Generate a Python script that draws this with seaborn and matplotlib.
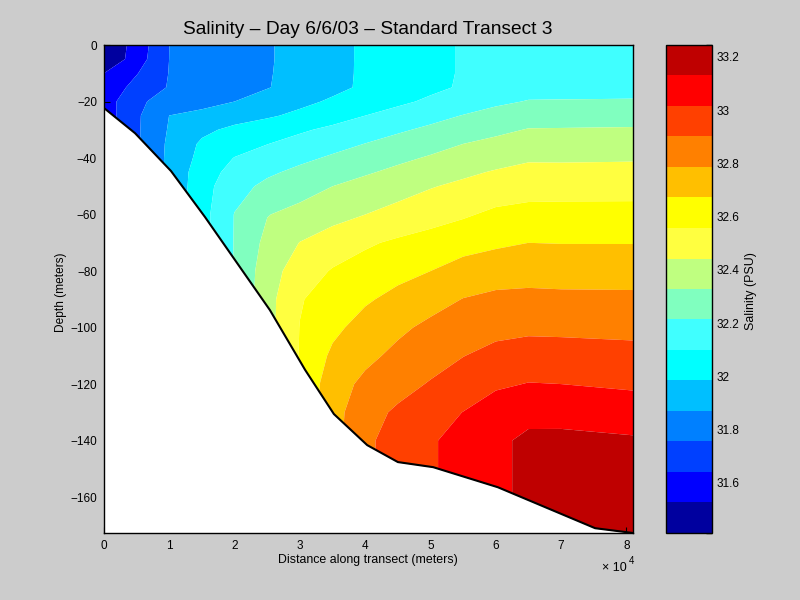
import numpy as np
import matplotlib
matplotlib.use("Agg")
import matplotlib.pyplot as plt
from matplotlib.colors import ListedColormap, BoundaryNorm
import seaborn as sns

# Stations along the transect (metres)
stations = [0, 5000, 10000, 15000, 20000, 25000, 30000, 35000, 40000, 45000, 50000, 55000, 60000, 65000, 70000, 81000]
# Sample depths (metres)
depths = [0, -5, -10, -15, -20, -25, -30, -35, -40, -45, -50, -60, -70, -80, -90, -100, -110, -120, -130, -140, -150, -160, -170, -180]

# Salinity per station, one value for each depth
st00 = [31.42, 31.42, 31.527, 31.56, 31.58, 31.58, 31.58, 31.58, 31.58, 31.58, 31.58, 31.58, 31.58, 31.58, 31.58, 31.58, 31.58, 31.58, 31.58, 31.58, 31.58, 31.58, 31.58, 31.58]
st05 = [31.573, 31.586, 31.635, 31.68, 31.74, 31.739, 31.74, 31.74, 31.74, 31.74, 31.74, 31.74, 31.74, 31.74, 31.74, 31.74, 31.74, 31.74, 31.74, 31.74, 31.74, 31.74, 31.74, 31.74]
st10 = [31.756, 31.757, 31.76, 31.764, 31.79, 31.871, 31.88, 31.891, 31.895, 31.895, 31.895, 31.895, 31.895, 31.895, 31.895, 31.895, 31.895, 31.895, 31.895, 31.895, 31.895, 31.895, 31.895, 31.895]
st15 = [31.79, 31.79, 31.792, 31.798, 31.829, 31.904, 31.96, 32.003, 32.02, 32.048, 32.056, 32.06, 32.06, 32.06, 32.06, 32.06, 32.06, 32.06, 32.06, 32.06, 32.06, 32.06, 32.06, 32.06]
st20 = [31.825, 31.825, 31.827, 31.831, 31.87, 31.937, 32.011, 32.05, 32.104, 32.137, 32.174, 32.218, 32.22, 32.22, 32.22, 32.22, 32.22, 32.22, 32.22, 32.22, 32.22, 32.22, 32.22, 32.22]
st25 = [31.86, 31.86, 31.862, 31.865, 31.915, 31.97, 32.048, 32.098, 32.147, 32.195, 32.24, 32.325, 32.361, 32.393, 32.403, 32.403, 32.403, 32.403, 32.403, 32.403, 32.403, 32.403, 32.403, 32.403]
st30 = [31.905, 31.905, 31.907, 31.91, 31.958, 32.01, 32.085, 32.138, 32.189, 32.24, 32.283, 32.363, 32.446, 32.499, 32.55, 32.561, 32.565, 32.57, 32.57, 32.57, 32.57, 32.57, 32.57, 32.57]
st35 = [31.956, 31.956, 31.957, 31.958, 32.0, 32.055, 32.123, 32.177, 32.229, 32.278, 32.329, 32.408, 32.494, 32.567, 32.608, 32.646, 32.695, 32.74, 32.745, 32.745, 32.745, 32.745, 32.745, 32.745]
st40 = [32.0, 32.0, 32.0, 32.002, 32.04, 32.1, 32.16, 32.216, 32.267, 32.317, 32.365, 32.443, 32.543, 32.603, 32.658, 32.717, 32.762, 32.811, 32.86, 32.88, 32.88, 32.88, 32.88, 32.88]
st45 = [32.037, 32.037, 32.037, 32.04, 32.079, 32.14, 32.199, 32.253, 32.306, 32.353, 32.40, 32.478, 32.576, 32.638, 32.707, 32.767, 32.812, 32.862, 32.92, 32.95, 32.95, 32.95, 32.95, 32.95]
st50 = [32.073, 32.073, 32.073, 32.077, 32.118, 32.179, 32.235, 32.291, 32.34, 32.387, 32.436, 32.513, 32.602, 32.673, 32.749, 32.81, 32.855, 32.911, 32.968, 33.004, 33.004, 33.004, 33.004, 33.004]
st55 = [32.109, 32.109, 32.109, 32.112, 32.155, 32.218, 32.269, 32.329, 32.369, 32.421, 32.467, 32.545, 32.628, 32.72, 32.79, 32.84, 32.90, 32.95, 33.018, 33.056, 33.056, 33.056, 33.056, 33.056]
st60 = [32.12, 32.122, 32.125, 32.14, 32.192, 32.255, 32.303, 32.358, 32.398, 32.453, 32.497, 32.58, 32.654, 32.74, 32.81, 32.875, 32.93, 33.0, 33.07, 33.106, 33.106, 33.106, 33.106, 33.106]
st65 = [32.14, 32.145, 32.15, 32.17, 32.22, 32.277, 32.335, 32.382, 32.43, 32.472, 32.513, 32.594, 32.673, 32.746, 32.815, 32.88, 32.952, 33.02, 33.095, 33.156, 33.156, 33.156, 33.156, 33.156]
st70 = [32.16, 32.165, 32.17, 32.18, 32.22, 32.275, 32.337, 32.385, 32.43, 32.47, 32.515, 32.595, 32.67, 32.745, 32.81, 32.88, 32.945, 33.016, 33.09, 33.16, 33.18, 33.19, 33.2, 33.2]
st81 = [32.17, 32.175, 32.18, 32.19, 32.22, 32.283, 32.34, 32.388, 32.433, 32.472, 32.517, 32.595, 32.67, 32.74, 32.81, 32.87, 32.94, 33.0, 33.07, 33.145, 33.19, 33.2, 33.2, 33.2]

# Sea floor profile
floor_x = [0, 4750, 10260, 15470, 25400, 30800, 35200, 40300, 45000, 50400, 60300, 75200, 81000]
floor_z = [-22.3, -31.2, -44.6, -60.9, -93.8, -115, -130.6, -141.6, -147.6, -149.4, -156.5, -171, -172.7]

# Contour levels and band colours
levels = [31.412, 31.527, 31.641, 31.756, 31.870, 31.985, 32.100, 32.214, 32.329,
          32.443, 32.558, 32.673, 32.787, 32.902, 33.016, 33.131, 33.245]
band_colors = ["#00009F", "#0000FF", "#0040FF", "#0080FF", "#00BFFF", "#00FFFF", "#40FFFF", "#80FFBF",
               "#BFFF80", "#FFFF40", "#FFFF00", "#FFBF00", "#FF8000", "#FF4000", "#FF0000", "#BF0000"]
x_ticks = [0, 10000, 20000, 30000, 40000, 50000, 60000, 70000, 80000]
x_tick_labels = ["0", "1", "2", "3", "4", "5", "6", "7", "8"]
y_ticks = [0, -20, -40, -60, -80, -100, -120, -140, -160]
cbar_ticks = [31.6, 31.8, 32, 32.2, 32.4, 32.6, 32.8, 33, 33.2]
cbar_labels = ["31.6", "31.8", "32", "32.2", "32.4", "32.6", "32.8", "33", "33.2"]

sns.set_theme(style="ticks", rc={
    "figure.facecolor": "#CCCCCC", "savefig.facecolor": "#CCCCCC",
    "axes.facecolor": "white", "axes.edgecolor": "black", "axes.linewidth": 1.0,
    "xtick.direction": "in", "ytick.direction": "in",
    "xtick.color": "black", "ytick.color": "black", "text.color": "black", "axes.labelcolor": "black",
    "xtick.major.size": 4, "ytick.major.size": 4,
})
plt.rcParams["font.family"] = ["Liberation Sans", "DejaVu Sans"]

W, H = 800, 600
fig = plt.figure(figsize=(8, 6), dpi=100)
ax = fig.add_axes([104 / W, 1 - 533 / H, (633 - 104) / W, (533 - 45) / H])
cax = fig.add_axes([665.5 / W, 1 - 533 / H, (712 - 665.5) / W, (533 - 45) / H])

cmap = ListedColormap(sns.color_palette(band_colors, n_colors=len(band_colors)))
norm = BoundaryNorm(levels, cmap.N)

salinity = np.array([st00, st05, st10, st15, st20, st25, st30, st35, st40, st45, st50,
                     st55, st60, st65, st70, st81]).T
cs = ax.contourf(stations, depths, salinity, levels=levels, cmap=cmap, norm=norm, antialiased=True)

# White sea bed under a black floor line
ax.fill_between(floor_x, floor_z, -200, color="white", zorder=3, lw=0)
sns.lineplot(x=floor_x, y=floor_z, ax=ax, color="black", lw=1.5, sort=False, errorbar=None, zorder=4)

ax.set_xlim(0, 81000)
ax.set_ylim(-172.7, 0)
ax.set_xticks(x_ticks)
ax.set_xticklabels(x_tick_labels, fontsize=8.5)
ax.set_yticks(y_ticks)
ax.set_yticklabels([str(v).replace("-", "\u2212") for v in y_ticks], fontsize=8.5)
ax.tick_params(axis="both", length=4, width=0.8, pad=5, zorder=6)
for s in ax.spines.values():
    s.set_zorder(6)
ax.set_axisbelow(False)
ax.set_xlabel("")
ax.set_ylabel("")

fig.text(368 / W, 1 - 560 / H, "Distance along transect (meters)", ha="center", va="center", fontsize=8.9)
fig.text(61 / W, 1 - 292 / H, "Depth (meters)", ha="center", va="center", rotation=90, fontsize=8.6)
fig.text(367.5 / W, 1 - 29 / H, "Salinity \u2013 Day 6/6/03 \u2013 Standard Transect 3", ha="center", va="center", fontsize=13.75)
fig.text(602 / W, 1 - 568 / H, "\u00d7 10", ha="left", va="center", fontsize=9)
fig.text(629 / W, 1 - 561 / H, "4", ha="left", va="center", fontsize=7)

# Colour bar
cb = fig.colorbar(cs, cax=cax, ticks=cbar_ticks, spacing="proportional", drawedges=False)
cb.ax.set_yticklabels(cbar_labels, fontsize=8.5)
cb.ax.tick_params(axis="y", direction="in", length=4, width=0.8, left=True, right=True, pad=3)
cb.outline.set_linewidth(1.0)
cb.outline.set_edgecolor("black")
fig.text(751 / W, 1 - 291 / H, "Salinity (PSU)", ha="center", va="center", rotation=90, fontsize=8.9)

fig.savefig("out.png", dpi=100)
